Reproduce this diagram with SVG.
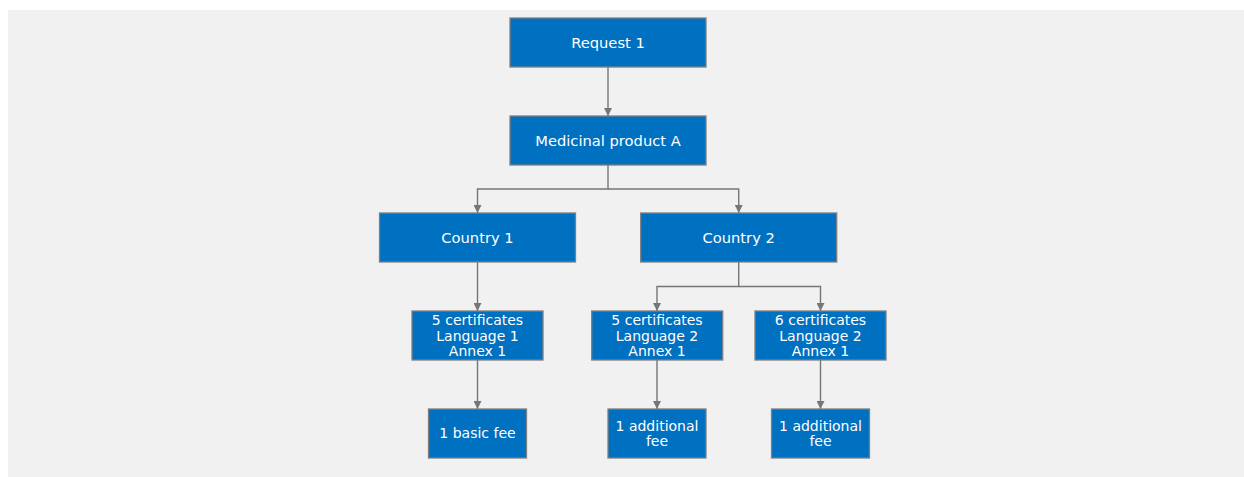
<svg xmlns="http://www.w3.org/2000/svg" width="1244" height="477" viewBox="0 0 1244 477">
<defs>
<style>
.box{fill:#0070c0;stroke:#7f7f7f;stroke-width:1.3}
.t{fill:#ffffff;font-family:"DejaVu Sans",Verdana,sans-serif;text-anchor:middle}
.big{font-size:14.7px}
.sm{font-size:14px}
.c{fill:none;stroke:#767676;stroke-width:1.4}
</style>
<marker id="ah" viewBox="0 0 8 8" refX="8" refY="4" markerWidth="8" markerHeight="8" markerUnits="userSpaceOnUse" orient="auto">
<path d="M0,0 L8,4 L0,8 Z" fill="#767676"/>
</marker>
</defs>
<rect x="8" y="10" width="1236" height="467" fill="#f1f1f1"/>
<g id="connectors">
<path class="c" d="M608,67 V116" marker-end="url(#ah)"/>
<path class="c" d="M608,165 V189 H477.5 V213" marker-end="url(#ah)"/>
<path class="c" d="M608,189 H738.7 V213" marker-end="url(#ah)"/>
<path class="c" d="M477.5,262 V311" marker-end="url(#ah)"/>
<path class="c" d="M738.7,262 V286.5 H657 V311" marker-end="url(#ah)"/>
<path class="c" d="M738.7,286.5 H820.5 V311" marker-end="url(#ah)"/>
<path class="c" d="M477.5,360 V409" marker-end="url(#ah)"/>
<path class="c" d="M657,360 V409" marker-end="url(#ah)"/>
<path class="c" d="M820.5,360 V409" marker-end="url(#ah)"/>
</g>
<g id="request1"><rect class="box" x="510" y="18" width="196" height="49"/><text class="t big" x="608" y="48">Request 1</text></g>
<g id="medicinal"><rect class="box" x="510" y="116" width="196" height="49"/><text class="t big" x="608" y="146">Medicinal product A</text></g>
<g id="country1"><rect class="box" x="379.5" y="213" width="196" height="49"/><text class="t big" x="477.5" y="243">Country 1</text></g>
<g id="country2"><rect class="box" x="640.7" y="213" width="196" height="49"/><text class="t big" x="738.7" y="243">Country 2</text></g>
<g id="cert1"><rect class="box" x="412" y="311" width="131" height="49"/><text class="t sm" x="477.5" y="325">5 certificates</text><text class="t sm" x="477.5" y="340.5">Language 1</text><text class="t sm" x="477.5" y="356">Annex 1</text></g>
<g id="cert2"><rect class="box" x="591.7" y="311" width="131" height="49"/><text class="t sm" x="657" y="325">5 certificates</text><text class="t sm" x="657" y="340.5">Language 2</text><text class="t sm" x="657" y="356">Annex 1</text></g>
<g id="cert3"><rect class="box" x="755" y="311" width="131" height="49"/><text class="t sm" x="820.5" y="325">6 certificates</text><text class="t sm" x="820.5" y="340.5">Language 2</text><text class="t sm" x="820.5" y="356">Annex 1</text></g>
<g id="fee1"><rect class="box" x="428.5" y="409" width="98" height="49"/><text class="t sm" x="477.5" y="438">1 basic fee</text></g>
<g id="fee2"><rect class="box" x="608" y="409" width="98" height="49"/><text class="t sm" x="657" y="431">1 additional</text><text class="t sm" x="657" y="446">fee</text></g>
<g id="fee3"><rect class="box" x="771.5" y="409" width="98" height="49"/><text class="t sm" x="820.5" y="431">1 additional</text><text class="t sm" x="820.5" y="446">fee</text></g>
</svg>
